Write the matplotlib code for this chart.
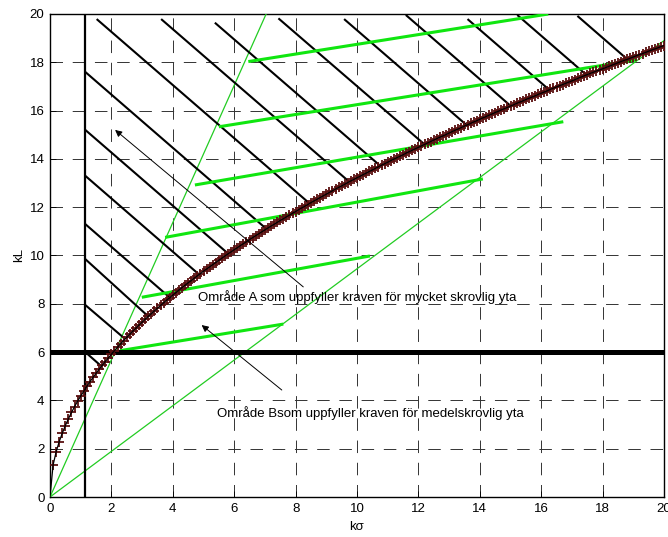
import matplotlib
matplotlib.use("Agg")
import matplotlib.pyplot as plt

plt.rcParams['font.family'] = ['Liberation Sans', 'DejaVu Sans']
plt.rcParams['lines.scale_dashes'] = False

# ---------------- data ----------------
curve_x = [0.0,
    0.1, 0.2, 0.3, 0.4, 0.5, 0.6, 0.7, 0.8, 0.9, 1.0,
    1.1, 1.2, 1.3, 1.4, 1.5, 1.6, 1.7, 1.8, 1.9, 2.0,
    2.1, 2.2, 2.3, 2.4, 2.5, 2.6, 2.7, 2.8, 2.9, 3.0,
    3.1, 3.2, 3.3, 3.4, 3.5, 3.6, 3.7, 3.8, 3.9, 4.0,
    4.1, 4.2, 4.3, 4.4, 4.5, 4.6, 4.7, 4.8, 4.9, 5.0,
    5.1, 5.2, 5.3, 5.4, 5.5, 5.6, 5.7, 5.8, 5.9, 6.0,
    6.1, 6.2, 6.3, 6.4, 6.5, 6.6, 6.7, 6.8, 6.9, 7.0,
    7.1, 7.2, 7.3, 7.4, 7.5, 7.6, 7.7, 7.8, 7.9, 8.0,
    8.1, 8.2, 8.3, 8.4, 8.5, 8.6, 8.7, 8.8, 8.9, 9.0,
    9.1, 9.2, 9.3, 9.4, 9.5, 9.6, 9.7, 9.8, 9.9, 10.0,
    10.1, 10.2, 10.3, 10.4, 10.5, 10.6, 10.7, 10.8, 10.9, 11.0,
    11.1, 11.2, 11.3, 11.4, 11.5, 11.6, 11.7, 11.8, 11.9, 12.0,
    12.1, 12.2, 12.3, 12.4, 12.5, 12.6, 12.7, 12.8, 12.9, 13.0,
    13.1, 13.2, 13.3, 13.4, 13.5, 13.6, 13.7, 13.8, 13.9, 14.0,
    14.1, 14.2, 14.3, 14.4, 14.5, 14.6, 14.7, 14.8, 14.9, 15.0,
    15.1, 15.2, 15.3, 15.4, 15.5, 15.6, 15.7, 15.8, 15.9, 16.0,
    16.1, 16.2, 16.3, 16.4, 16.5, 16.6, 16.7, 16.8, 16.9, 17.0,
    17.1, 17.2, 17.3, 17.4, 17.5, 17.6, 17.7, 17.8, 17.9, 18.0,
    18.1, 18.2, 18.3, 18.4, 18.5, 18.6, 18.7, 18.8, 18.9, 19.0,
    19.1, 19.2, 19.3, 19.4, 19.5, 19.6, 19.7, 19.8, 19.9, 20.0]
curve_y = [0.00,
    1.32, 1.87, 2.29, 2.64, 2.96, 3.24, 3.50, 3.74, 3.97, 4.18,
    4.38, 4.58, 4.77, 4.95, 5.12, 5.29, 5.45, 5.61, 5.76, 5.91,
    6.06, 6.20, 6.34, 6.48, 6.61, 6.74, 6.87, 6.99, 7.12, 7.24,
    7.36, 7.48, 7.59, 7.71, 7.82, 7.93, 8.04, 8.15, 8.25, 8.36,
    8.46, 8.57, 8.67, 8.77, 8.87, 8.96, 9.06, 9.16, 9.25, 9.35,
    9.44, 9.53, 9.62, 9.71, 9.80, 9.89, 9.98, 10.07, 10.15, 10.24,
    10.32, 10.41, 10.49, 10.57, 10.66, 10.74, 10.82, 10.90, 10.98, 11.06,
    11.14, 11.22, 11.29, 11.37, 11.45, 11.52, 11.60, 11.67, 11.75, 11.82,
    11.90, 11.97, 12.04, 12.11, 12.19, 12.26, 12.33, 12.40, 12.47, 12.54,
    12.61, 12.68, 12.75, 12.82, 12.88, 12.95, 13.02, 13.09, 13.15, 13.22,
    13.28, 13.35, 13.41, 13.48, 13.54, 13.61, 13.67, 13.74, 13.80, 13.86,
    13.93, 13.99, 14.05, 14.11, 14.17, 14.24, 14.30, 14.36, 14.42, 14.48,
    14.54, 14.60, 14.66, 14.72, 14.78, 14.84, 14.90, 14.95, 15.01, 15.07,
    15.13, 15.19, 15.24, 15.30, 15.36, 15.41, 15.47, 15.53, 15.58, 15.64,
    15.70, 15.75, 15.81, 15.86, 15.92, 15.97, 16.03, 16.08, 16.13, 16.19,
    16.24, 16.30, 16.35, 16.40, 16.46, 16.51, 16.56, 16.61, 16.67, 16.72,
    16.77, 16.82, 16.88, 16.93, 16.98, 17.03, 17.08, 17.13, 17.18, 17.23,
    17.28, 17.34, 17.39, 17.44, 17.49, 17.54, 17.59, 17.64, 17.68, 17.73,
    17.78, 17.83, 17.88, 17.93, 17.98, 18.03, 18.08, 18.12, 18.17, 18.22,
    18.27, 18.32, 18.36, 18.41, 18.46, 18.51, 18.55, 18.60, 18.65, 18.69]

# black hatch segments (start -> end)
hatch_x0 = [1.15, 1.15, 1.15, 1.15, 1.15, 1.15, 1.15,
            1.52, 3.62, 5.37, 7.44, 9.58, 11.59, 13.60, 15.22, 17.18]
hatch_y0 = [17.6, 15.2, 13.3, 11.3, 9.85, 7.95, 6.0,
            19.79, 19.79, 19.64, 19.82, 19.79, 19.96, 19.79, 19.96, 19.92]
hatch_x1 = [7.05, 5.80, 4.85, 3.90, 3.20, 2.45, 1.67,
            8.45, 9.75, 10.75, 12.20, 13.57, 15.00, 16.27, 17.47, 18.80]
hatch_y1 = [11.10, 10.08, 9.22, 8.26, 7.48, 6.54, 5.42,
            12.16, 13.05, 13.72, 14.60, 15.40, 16.20, 16.85, 17.48, 18.13]

# thick green segments
green_x0 = [2.28, 2.99, 3.75, 4.72, 5.50, 6.46]
green_y0 = [6.06, 8.27, 10.75, 12.92, 15.33, 18.03]
green_x1 = [7.60, 10.42, 14.10, 16.72, 19.11, 16.23]
green_y1 = [7.16, 9.98, 13.17, 15.54, 18.10, 20.00]

# thin green rays from the origin
ray_x1 = [7.04, 20.0]
ray_y1 = [20.0, 18.9]

limit_ksigma = 1.15   # vertical black line
limit_kL = 6.0        # thick horizontal line

ticks = [0, 2, 4, 6, 8, 10, 12, 14, 16, 18, 20]

text_A = "Område A som uppfyller kraven för mycket skrovlig yta"
text_B = "Område Bsom uppfyller kraven för medelskrovlig yta"

# ---------------- figure ----------------
fig = plt.figure(figsize=(6.68, 5.37), dpi=100)
ax = fig.add_axes([50 / 668, 1 - 497 / 537, 614 / 668, 483 / 537])

ax.set_xlim(0, 20)
ax.set_ylim(0, 20)
ax.set_xticks(ticks)
ax.set_yticks(ticks)
ax.tick_params(direction='in', length=4, width=0.6, labelsize=9.5, pad=4)
for s in ax.spines.values():
    s.set_linewidth(1.0)
ax.grid(True, color='0.2', linestyle=(0, (9, 7)), linewidth=0.7)
ax.set_axisbelow(True)

green_thick = '#10e610'
green_thin = '#22cc22'

for x0, y0 in zip(ray_x1, ray_y1):
    ax.plot([0, x0], [0, y0], color=green_thin, lw=0.9, zorder=3)

for x0, y0, x1, y1 in zip(hatch_x0, hatch_y0, hatch_x1, hatch_y1):
    ax.plot([x0, x1], [y0, y1], color='k', lw=1.5, zorder=3, solid_capstyle='butt')

for x0, y0, x1, y1 in zip(green_x0, green_y0, green_x1, green_y1):
    ax.plot([x0, x1], [y0, y1], color=green_thick, lw=2.2, zorder=4, solid_capstyle='butt')

ax.plot([limit_ksigma, limit_ksigma], [0, 20], color='k', lw=1.6, zorder=5)
ax.plot([0, 20], [limit_kL, limit_kL], color='k', lw=3.6, zorder=5)

ax.plot(curve_x[1:], curve_y[1:], linestyle='none', marker='+', markersize=6.5,
        markeredgewidth=1.3, color='#5a1010', zorder=6)
ax.plot(curve_x, curve_y, color='k', lw=0.9, zorder=7)

ax.text(4.83, 8.29, text_A, fontsize=9.5, va='center', ha='left', zorder=8)
ax.text(5.45, 3.47, text_B, fontsize=9.5, va='center', ha='left', zorder=8)

arrow = dict(arrowstyle='-|>', color='k', lw=0.7, mutation_scale=10, shrinkA=0, shrinkB=0)
ax.annotate('', xy=(2.12, 15.2), xytext=(8.25, 8.7), arrowprops=arrow, zorder=8)
ax.annotate('', xy=(4.94, 7.12), xytext=(7.55, 4.43), arrowprops=arrow, zorder=8)

ax.set_xlabel('kσ', fontsize=9.5, labelpad=5)
ax.set_ylabel('kL', fontsize=9.5, labelpad=3)

fig.savefig('out.png', dpi=100)
